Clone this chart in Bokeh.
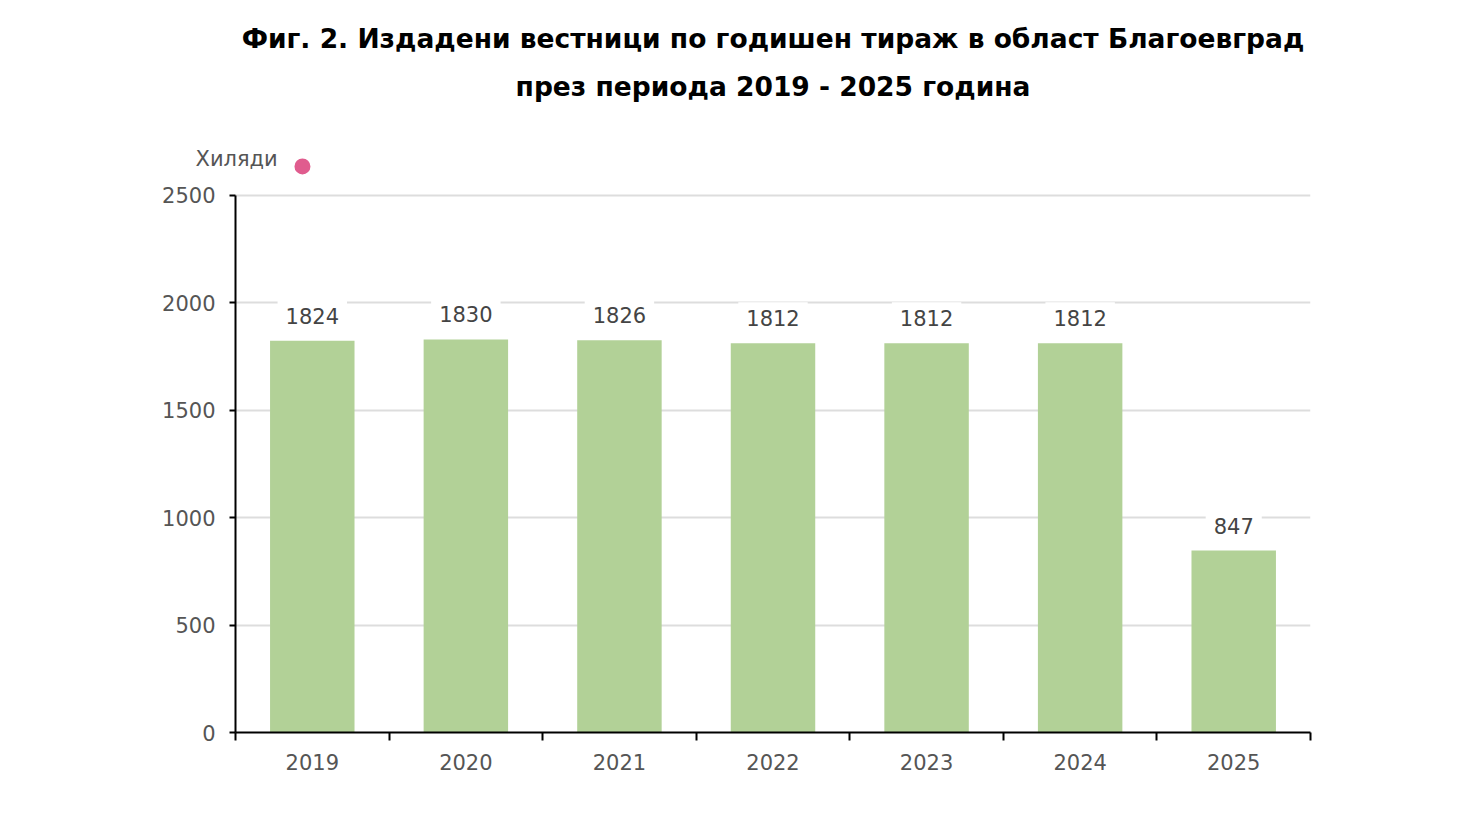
from bokeh.plotting import figure
from bokeh.models import ColumnDataSource, Range1d, FixedTicker, Title
from bokeh.embed import file_html
from bokeh.resources import INLINE
from bokeh.core.properties import value

years = ["2019", "2020", "2021", "2022", "2023", "2024", "2025"]
values = [1824, 1830, 1826, 1812, 1812, 1812, 847]
y_ticks = [0, 500, 1000, 1500, 2000, 2500]
title_lines = ["Фиг. 2. Издадени вестници по годишен тираж в област Благоевград",
               "през периода 2019 - 2025 година"]
unit_label = "Хиляди"
series_color = "#e05c8e"
bar_color = "#b2d197"

FONT = "DejaVu Sans"
Y_TOP = 2686          # frame reaches a little above the top tick, to hold the marker
xs = [i + 0.5 for i in range(len(years))]
src = ColumnDataSource(dict(x=xs, top=values, label=[str(v) for v in values]))

p = figure(frame_width=1075, frame_height=577, output_backend="svg", toolbar_location=None,
           x_range=Range1d(0, len(years)), y_range=Range1d(0, Y_TOP),
           min_border_left=235, min_border_right=133, min_border_top=155, min_border_bottom=90)
p.outline_line_color = None
p.background_fill_color = "white"
p.border_fill_color = "white"

p.xgrid.visible = False
p.ygrid.grid_line_color = "#dddddd"
p.ygrid.grid_line_width = 2
p.ygrid.ticker = FixedTicker(ticks=y_ticks)

xa = p.xaxis[0]
xa.ticker = FixedTicker(ticks=xs, minor_ticks=list(range(len(years) + 1)))
xa.major_label_overrides = {x: y for x, y in zip(xs, years)}
xa.major_tick_out = 0
xa.major_tick_in = 0
xa.minor_tick_out = 8
xa.minor_tick_in = 0
xa.minor_tick_line_color = "black"
xa.minor_tick_line_width = 2
xa.axis_line_color = "black"
xa.axis_line_width = 2
xa.major_label_standoff = 13
xa.major_label_text_font = FONT
xa.major_label_text_font_size = "21px"
xa.major_label_text_color = "#555555"

ya = p.yaxis[0]
ya.ticker = FixedTicker(ticks=y_ticks)
ya.bounds = (0, y_ticks[-1])
ya.major_tick_out = 6
ya.major_tick_in = 0
ya.major_tick_line_color = "black"
ya.major_tick_line_width = 2
ya.minor_tick_out = 0
ya.minor_tick_in = 0
ya.axis_line_color = "black"
ya.axis_line_width = 2
ya.major_label_standoff = 14
ya.major_label_text_font = FONT
ya.major_label_text_font_size = "21px"
ya.major_label_text_color = "#555555"

p.vbar(x="x", top="top", bottom=0, width=0.55, source=src,
       fill_color=bar_color, line_color=None)

p.text(x="x", y="top", text="label", source=src, text_align="center",
       text_baseline="middle", y_offset=-25, text_font=value(FONT),
       text_font_size="21px", text_color="#444444",
       background_fill_color="white", padding=8)

# series marker next to the unit name
p.scatter(x=[0.436], y=[2635], size=18, fill_color=series_color,
          line_color="white", line_width=2)

p.add_layout(Title(text=unit_label, align="left", offset=-40, standoff=-30,
                   text_font=FONT, text_font_style="normal", text_font_size="21px",
                   text_color="#555555"), "above")
for line, so in zip(reversed(title_lines), [108, -79]):
    p.add_layout(Title(text=line, align="center", text_font=FONT, text_font_style="bold",
                       text_font_size="26.5px", text_color="black", standoff=so), "above")

open("out.html", "w").write(file_html(p, INLINE))
